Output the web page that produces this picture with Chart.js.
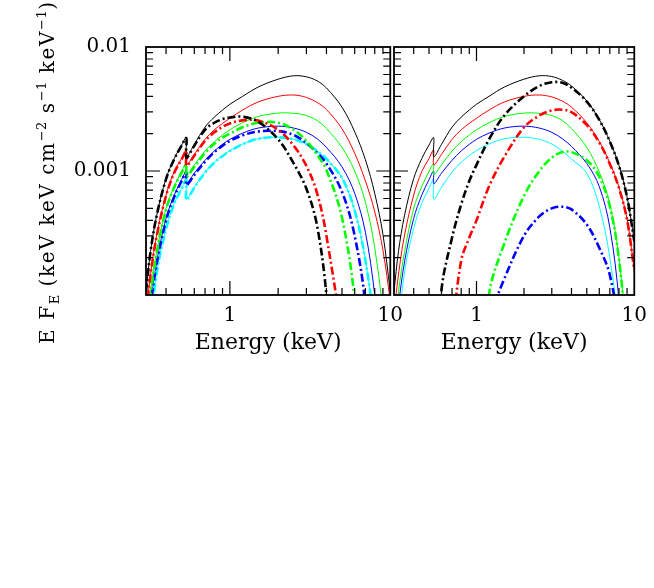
<!DOCTYPE html>
<html>
<head>
<meta charset="utf-8">
<script src="https://cdn.jsdelivr.net/npm/chart.js@4"></script>
<style>
html,body{margin:0;background:#fff;overflow:hidden;}
#page{position:relative;width:654px;height:588px;overflow:hidden;background:#fff;}
canvas{position:absolute;top:0;}
#leftCanvas{left:0;}
#rightCanvas{left:380px;}
#ytitle{position:absolute;left:35px;top:344px;transform-origin:0 0;transform:rotate(-90deg);
  font-family:"DejaVu Serif";font-size:20px;line-height:24px;letter-spacing:1.6px;white-space:nowrap;color:#000;}
#ytitle sup,#ytitle sub{font-size:13px;line-height:0;letter-spacing:0.5px;}
</style>
</head>
<body>
<div id="page">
<canvas id="leftCanvas" width="412" height="370"></canvas>
<canvas id="rightCanvas" width="276" height="370"></canvas>
<div id="ytitle">E F<sub>E</sub> (keV keV cm<sup>−2</sup> s<sup>−1</sup> keV<sup>−1</sup>)</div>
</div>
<script>
// energy grid (keV); 0.535 / 0.536 is the edge
const energy = [0.3, 0.32, 0.35, 0.4, 0.45, 0.5, 0.535, 0.536, 0.6, 0.7, 0.8, 0.9, 1.0,
                1.2, 1.5, 2.0, 2.5, 3.0, 3.5, 4, 5, 6, 7, 8, 9, 10];

// left panel, totals (thin solid)
const leftBlack = [1.06e-4, 2.23e-4, 4.4e-4, 8.7e-4, 1.26e-3, 1.62e-3, 1.86e-3, 1.30e-3, 1.64e-3, 2.26e-3, 2.72e-3, 3.1e-3, 3.45e-3,
                   4.0e-3, 4.75e-3, 5.5e-3, 5.86e-3, 5.75e-3, 5.33e-3, 4.67e-3, 3.27e-3, 2.07e-3, 1.23e-3, 6.6e-4, 3.08e-4, 1.07e-4];
const leftRed = [7e-5, 1.45e-4, 3.05e-4, 6.4e-4, 9.9e-4, 1.26e-3, 1.48e-3, 1.12e-3, 1.36e-3, 1.8e-3, 2.15e-3, 2.42e-3, 2.66e-3,
                 3.1e-3, 3.6e-3, 4.0e-3, 4.1e-3, 3.92e-3, 3.57e-3, 3.13e-3, 2.19e-3, 1.39e-3, 8.3e-4, 4.7e-4, 2.3e-4, 9e-5];
const leftGreen = [5e-5, 1.06e-4, 2.23e-4, 5.0e-4, 7.5e-4, 9.9e-4, 1.15e-3, 9.3e-4, 1.12e-3, 1.45e-3, 1.72e-3, 1.95e-3, 2.15e-3,
                   2.45e-3, 2.75e-3, 2.93e-3, 2.92e-3, 2.8e-3, 2.55e-3, 2.2e-3, 1.55e-3, 1.0e-3, 5.6e-4, 2.4e-4, 7e-5, 1e-5];
const leftBlue = [3e-5, 8e-5, 1.86e-4, 4.15e-4, 6.4e-4, 8.5e-4, 1.0e-3, 7.9e-4, 9.6e-4, 1.22e-3, 1.45e-3, 1.64e-3, 1.8e-3,
                  2.02e-3, 2.22e-3, 2.3e-3, 2.22e-3, 2.05e-3, 1.82e-3, 1.55e-3, 1.08e-3, 6.6e-4, 3.2e-4, 1.0e-4, 2e-5, 3e-6];
const leftCyan = [1e-5, 5e-5, 1.54e-4, 3.45e-4, 5.5e-4, 7.25e-4, 8.6e-4, 5.9e-4, 7.4e-4, 9.8e-4, 1.18e-3, 1.33e-3, 1.46e-3,
                  1.65e-3, 1.82e-3, 1.87e-3, 1.8e-3, 1.65e-3, 1.45e-3, 1.25e-3, 8.8e-4, 4.8e-4, 1.9e-4, 5e-5, 5e-6, 1e-6];

// left panel, components (thick dash-dot)
const leftBlackComp = [1.06e-4, 2.23e-4, 4.4e-4, 8.6e-4, 1.25e-3, 1.6e-3, 1.84e-3, 1.28e-3, 1.6e-3, 2.15e-3, 2.45e-3, 2.62e-3, 2.7e-3,
                       2.74e-3, 2.5e-3, 1.8e-3, 1.15e-3, 7.2e-4, 3.6e-4, 1.0e-4, 3e-6, null, null, null, null, null];
const leftRedComp = [7e-5, 1.45e-4, 3.0e-4, 6.3e-4, 9.7e-4, 1.24e-3, 1.45e-3, 1.1e-3, 1.33e-3, 1.75e-3, 2.05e-3, 2.27e-3, 2.42e-3,
                     2.56e-3, 2.55e-3, 2.15e-3, 1.6e-3, 1.1e-3, 6.6e-4, 3.0e-4, 4e-5, 1e-6, null, null, null, null];
const leftGreenComp = [5e-5, 1.0e-4, 2.2e-4, 4.9e-4, 7.4e-4, 9.7e-4, 1.13e-3, 9.0e-4, 1.08e-3, 1.4e-3, 1.66e-3, 1.86e-3, 2.0e-3,
                       2.25e-3, 2.45e-3, 2.45e-3, 2.15e-3, 1.75e-3, 1.35e-3, 1.02e-3, 4.2e-4, 9e-5, 5e-6, null, null, null];
const leftBlueComp = [3e-5, 8e-5, 1.8e-4, 4.0e-4, 6.2e-4, 8.3e-4, 9.8e-4, 7.7e-4, 9.3e-4, 1.19e-3, 1.42e-3, 1.6e-3, 1.75e-3,
                      1.94e-3, 2.08e-3, 2.1e-3, 1.95e-3, 1.68e-3, 1.4e-3, 1.15e-3, 6.8e-4, 3.0e-4, 8e-5, 3e-6, null, null];
const leftCyanComp = [1e-5, 5e-5, 1.5e-4, 3.4e-4, 5.45e-4, 7.2e-4, 8.5e-4, 5.85e-4, 7.35e-4, 9.7e-4, 1.17e-3, 1.32e-3, 1.45e-3,
                      1.64e-3, 1.82e-3, 1.87e-3, 1.8e-3, 1.65e-3, 1.45e-3, 1.25e-3, 8.8e-4, 4.8e-4, 1.9e-4, 5e-5, 5e-6, null];

// right panel, totals
const rightBlack = [1.06e-4, 2.23e-4, 4.4e-4, 8.7e-4, 1.26e-3, 1.62e-3, 1.86e-3, 1.30e-3, 1.64e-3, 2.26e-3, 2.72e-3, 3.1e-3, 3.45e-3,
                    4.0e-3, 4.75e-3, 5.5e-3, 5.86e-3, 5.78e-3, 5.39e-3, 4.85e-3, 3.67e-3, 2.6e-3, 1.74e-3, 1.11e-3, 6.2e-4, 2.75e-4];
const rightRed = [7e-5, 1.45e-4, 3.05e-4, 6.4e-4, 9.9e-4, 1.26e-3, 1.48e-3, 1.12e-3, 1.36e-3, 1.8e-3, 2.15e-3, 2.42e-3, 2.66e-3,
                  3.1e-3, 3.6e-3, 4.0e-3, 4.1e-3, 3.96e-3, 3.66e-3, 3.27e-3, 2.45e-3, 1.73e-3, 1.16e-3, 7.4e-4, 4.1e-4, 1.6e-4];
const rightGreen = [5e-5, 1.06e-4, 2.23e-4, 5.0e-4, 7.5e-4, 9.9e-4, 1.15e-3, 9.3e-4, 1.12e-3, 1.45e-3, 1.72e-3, 1.95e-3, 2.15e-3,
                    2.45e-3, 2.75e-3, 2.93e-3, 2.92e-3, 2.8e-3, 2.55e-3, 2.2e-3, 1.55e-3, 9.8e-4, 5.4e-4, 2.0e-4, 4e-5, 5e-6];
const rightBlue = [3e-5, 8e-5, 1.86e-4, 4.15e-4, 6.4e-4, 8.5e-4, 1.0e-3, 7.9e-4, 9.6e-4, 1.22e-3, 1.45e-3, 1.64e-3, 1.8e-3,
                   2.02e-3, 2.22e-3, 2.3e-3, 2.22e-3, 2.05e-3, 1.82e-3, 1.58e-3, 1.15e-3, 7.5e-4, 3.5e-4, 9e-5, 1e-5, 1e-6];
const rightCyan = [1e-5, 5e-5, 1.54e-4, 3.45e-4, 5.5e-4, 7.25e-4, 8.6e-4, 5.9e-4, 7.4e-4, 9.8e-4, 1.18e-3, 1.33e-3, 1.46e-3,
                   1.65e-3, 1.82e-3, 1.87e-3, 1.8e-3, 1.65e-3, 1.45e-3, 1.25e-3, 9.6e-4, 5.2e-4, 2.0e-4, 5e-5, 5e-6, 1e-6];

// right panel, components
const rightBlackComp = [null, null, null, null, null, null, null, 1e-5, 1.1e-4, 2.9e-4, 5.4e-4, 8.3e-4, 1.12e-3,
                        1.8e-3, 2.8e-3, 4.0e-3, 4.85e-3, 5.2e-3, 5.15e-3, 4.7e-3, 3.63e-3, 2.58e-3, 1.73e-3, 1.10e-3, 6.15e-4, 2.72e-4];
const rightRedComp = [null, null, null, null, null, null, null, null, null, 5e-5, 1.9e-4, 2.9e-4, 4.0e-4,
                      7.5e-4, 1.3e-3, 2.25e-3, 2.8e-3, 3.08e-3, 3.12e-3, 2.98e-3, 2.35e-3, 1.7e-3, 1.14e-3, 7.3e-4, 4.05e-4, 1.58e-4];
const rightGreenComp = [null, null, null, null, null, null, null, null, null, null, null, null, 5e-6,
                        1.0e-4, 2.6e-4, 6.3e-4, 1.0e-3, 1.28e-3, 1.42e-3, 1.42e-3, 1.22e-3, 9.0e-4, 5.2e-4, 1.95e-4, 3.8e-5, 5e-6];
const rightBlueComp = [null, null, null, null, null, null, null, null, null, null, null, null, null,
                       6.5e-5, 1.35e-4, 3.0e-4, 4.3e-4, 5.0e-4, 5.15e-4, 4.9e-4, 3.7e-4, 2.4e-4, 1.45e-4, 5e-5, 5e-6, null];

// tick marks
const xTicks = [0.3, 0.4, 0.5, 0.6, 0.7, 0.8, 0.9, 1, 2, 3, 4, 5, 6, 7, 8, 9, 10];
const xMajor = [1, 10];
const yTicks = [0.0002, 0.0003, 0.0004, 0.0005, 0.0006, 0.0007, 0.0008, 0.0009, 0.001,
                0.002, 0.003, 0.004, 0.005, 0.006, 0.007, 0.008, 0.009, 0.01];
const yMajor = [0.001, 0.01];

Chart.defaults.font.family = "DejaVu Serif";
Chart.defaults.color = "#000";

function points(vals) {
    return energy.map((e, i) => ({x: e, y: vals[i]}));
}
function solid(vals, color) {
    return {data: points(vals), borderColor: color, borderWidth: 1, pointRadius: 0,
            tension: 0.35, fill: false, clip: 0};
}
function dashDot(vals, color) {
    return {data: points(vals), borderColor: color, borderWidth: 2.6, borderDash: [8, 3, 2, 3],
            pointRadius: 0, tension: 0.35, fill: false, clip: 0};
}

// frame and inward ticks on all four sides
const frame = {
    id: "frame",
    afterDatasetsDraw(chart) {
        const ctx = chart.ctx, a = chart.chartArea;
        const x = chart.scales.x, y = chart.scales.y;
        ctx.save();
        ctx.strokeStyle = "#000";
        ctx.lineWidth = 1.8;
        ctx.strokeRect(a.left, a.top, a.right - a.left, a.bottom - a.top);
        ctx.lineWidth = 1.2;
        ctx.beginPath();
        xTicks.forEach(v => {
            const p = x.getPixelForValue(v);
            if (p <= a.left + 1 || p >= a.right - 1) return;
            const len = xMajor.includes(v) ? 14 : 7;
            ctx.moveTo(p, a.bottom); ctx.lineTo(p, a.bottom - len);
            ctx.moveTo(p, a.top); ctx.lineTo(p, a.top + len);
        });
        yTicks.forEach(v => {
            const p = y.getPixelForValue(v);
            if (p <= a.top + 1 || p >= a.bottom - 1) return;
            const len = yMajor.includes(v) ? 14 : 7;
            ctx.moveTo(a.left, p); ctx.lineTo(a.left + len, p);
            ctx.moveTo(a.right, p); ctx.lineTo(a.right - len, p);
        });
        ctx.stroke();
        ctx.restore();
    }
};

function panel(canvas, datasets, showY, pad) {
    return new Chart(canvas, {
        type: "line",
        data: {datasets: datasets},
        options: {
            responsive: false,
            animation: false,
            events: [],
            layout: {padding: pad},
            plugins: {legend: {display: false}, tooltip: {enabled: false}},
            scales: {
                x: {
                    type: "logarithmic", min: 0.3, max: 10,
                    afterBuildTicks: s => { s.ticks = xMajor.map(v => ({value: v})); },
                    afterFit: s => { s.height = 61; },
                    ticks: {callback: v => String(v), font: {size: 20}, padding: 9, autoSkip: false, maxRotation: 0},
                    grid: {display: false, drawTicks: false},
                    border: {display: false},
                    title: {display: true, text: "Energy (keV)", font: {size: 22}, padding: 0}
                },
                y: {
                    type: "logarithmic", min: 1e-4, max: 1e-2, display: showY,
                    afterBuildTicks: s => { s.ticks = yMajor.map(v => ({value: v})); },
                    afterFit: s => { s.width = showY ? 146 : 0; },
                    ticks: {callback: v => String(v), font: {size: 20}, padding: 15, autoSkip: false},
                    grid: {display: false, drawTicks: false},
                    border: {display: false}
                }
            }
        },
        plugins: [frame]
    });
}

panel(document.getElementById("leftCanvas"), [
    dashDot(leftBlackComp, "#000000"),
    dashDot(leftRedComp, "#ff0000"),
    dashDot(leftGreenComp, "#00ff00"),
    dashDot(leftBlueComp, "#0000ff"),
    dashDot(leftCyanComp, "#00ffff"),
    solid(leftBlack, "#000000"),
    solid(leftRed, "#ff0000"),
    solid(leftGreen, "#00ff00"),
    solid(leftBlue, "#0000ff"),
    solid(leftCyan, "#00ffff")
], true, {left: 0, right: 18, top: 47, bottom: 14});

panel(document.getElementById("rightCanvas"), [
    dashDot(rightBlackComp, "#000000"),
    dashDot(rightRedComp, "#ff0000"),
    dashDot(rightGreenComp, "#00ff00"),
    dashDot(rightBlueComp, "#0000ff"),
    solid(rightBlack, "#000000"),
    solid(rightRed, "#ff0000"),
    solid(rightGreen, "#00ff00"),
    solid(rightBlue, "#0000ff"),
    solid(rightCyan, "#00ffff")
], false, {left: 14, right: 14, top: 47, bottom: 14});
</script>
</body>
</html>
